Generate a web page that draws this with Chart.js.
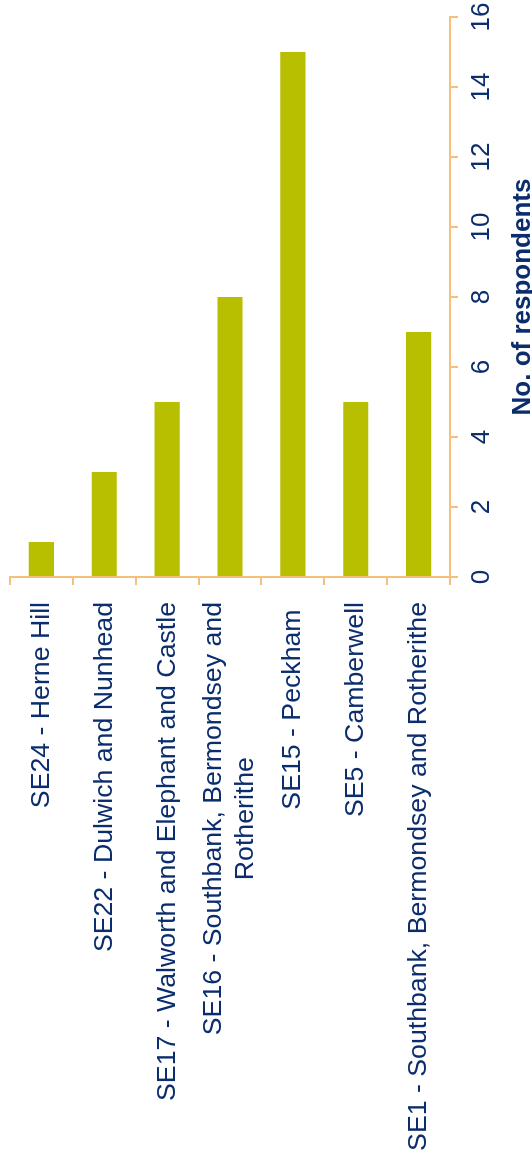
<!DOCTYPE html>
<html>
<head>
<meta charset="utf-8">
<script src="https://cdn.jsdelivr.net/npm/chart.js@4/dist/chart.umd.min.js"></script>
<style>
    html, body { margin: 0; padding: 0; background: #fff; overflow: hidden; }
    /* o gráfico é horizontal e a página mostra-o girado 90° */
    #wrap {
        position: absolute; left: 0; top: 0;
        width: 1158px; height: 532px;
        transform-origin: 0 0;
        transform: translate(0, 1158px) rotate(-90deg);
    }
</style>
</head>
<body>
<div id="wrap"><canvas id="grafico" width="1158" height="532"></canvas></div>
<script>
const categorias = [
    'SE24 - Herne Hill',
    'SE22 - Dulwich and Nunhead',
    'SE17 - Walworth and Elephant and Castle',
    ['SE16 - Southbank, Bermondsey and', 'Rotherithe'],
    'SE15 - Peckham ',
    'SE5 - Camberwell',
    'SE1 - Southbank, Bermondsey and Rotherithe'
];
const respondentes = [1, 3, 5, 8, 15, 5, 7];
const ticksValores = [0, 2, 4, 6, 8, 10, 12, 14, 16];

const corTexto = '#0b2d6e';
const corEixo = '#f5c07c';
const corBarra = '#b8be00';
const fonte = '"Liberation Sans", Arial, Helvetica, sans-serif';

// Rótulos das categorias: bloco alinhado à direita, linhas centradas entre si
const rotulosCategorias = {
    id: 'rotulosCategorias',
    afterDraw(chart) {
        const escala = chart.scales.y;
        const ctx = chart.ctx;
        ctx.save();
        ctx.font = '26.7px ' + fonte;
        ctx.fillStyle = corTexto;
        ctx.textBaseline = 'middle';
        ctx.textAlign = 'center';
        const direita = escala.right - 25;
        const alturaLinha = 32;
        categorias.forEach((rotulo, i) => {
            const linhas = Array.isArray(rotulo) ? rotulo : [rotulo];
            const largura = Math.max(...linhas.map(l => ctx.measureText(l).width));
            const centro = escala.getPixelForValue(i);
            linhas.forEach((linha, j) => {
                const y = centro + (j - (linhas.length - 1) / 2) * alturaLinha;
                ctx.fillText(linha, direita - largura / 2, y);
            });
        });
        ctx.restore();
    }
};

new Chart(document.getElementById('grafico').getContext('2d'), {
    type: 'bar',
    data: {
        labels: categorias,
        datasets: [{
            data: respondentes,
            backgroundColor: corBarra,
            borderWidth: 0,
            categoryPercentage: 1,
            barPercentage: 0.4
        }]
    },
    options: {
        indexAxis: 'y',
        responsive: false,
        animation: false,
        layout: { padding: { top: 10, right: 17, left: 0, bottom: 0 } },
        plugins: {
            legend: { display: false },
            tooltip: { enabled: false }
        },
        scales: {
            y: {
                type: 'category',
                position: 'left',
                grid: {
                    offset: true,
                    drawOnChartArea: false,
                    drawTicks: true,
                    tickLength: 8,
                    color: corEixo,
                    lineWidth: 2
                },
                border: { display: true, color: corEixo, width: 2 },
                ticks: { display: false },
                afterFit: function(escala) { escala.width = 581; }
            },
            x: {
                min: ticksValores[0],
                max: ticksValores[ticksValores.length - 1],
                grid: {
                    drawOnChartArea: false,
                    drawTicks: true,
                    tickLength: 8,
                    color: corEixo,
                    lineWidth: 2
                },
                border: { display: true, color: corEixo, width: 2 },
                ticks: {
                    stepSize: ticksValores[1] - ticksValores[0],
                    color: corTexto,
                    font: { family: fonte, size: 26 },
                    padding: 8,
                    maxRotation: 0
                },
                title: {
                    display: true,
                    text: 'No. of respondents',
                    color: corTexto,
                    font: { family: fonte, size: 26, weight: 'bold', lineHeight: 0.7 },
                    padding: { top: 0, bottom: 0 }
                },
                afterFit: function(escala) {
                    escala.height = 82;
                    escala.paddingLeft = 0;
                    escala.paddingRight = 0;
                }
            }
        }
    },
    plugins: [rotulosCategorias]
});
</script>
</body>
</html>
